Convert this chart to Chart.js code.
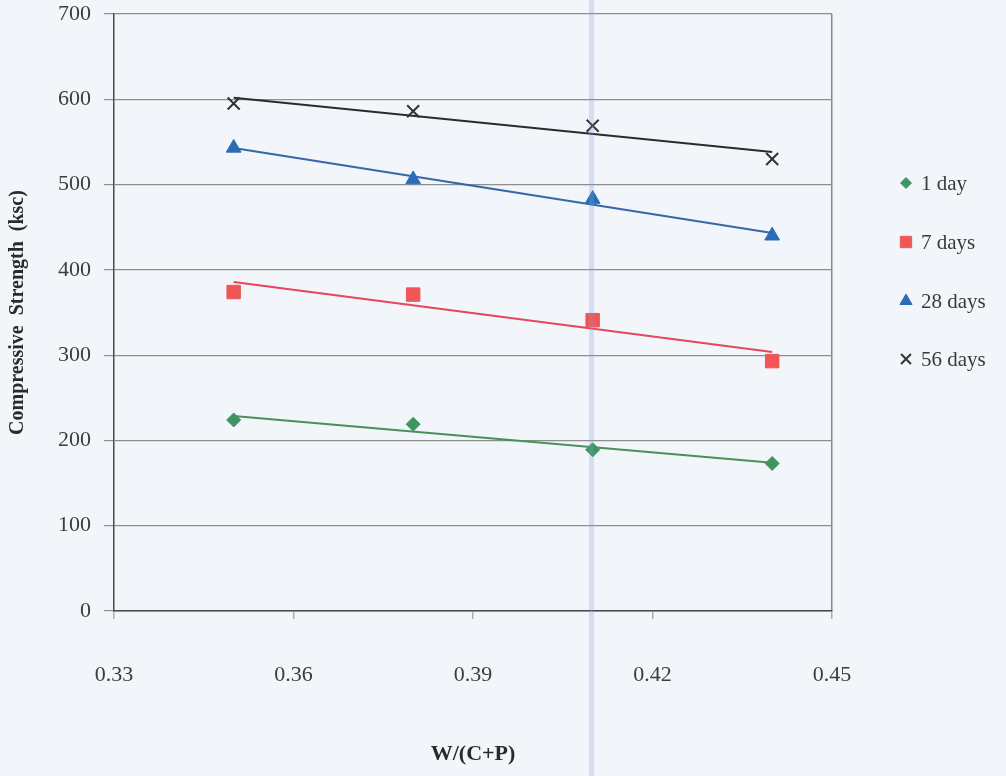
<!DOCTYPE html>
<html>
<head>
<meta charset="utf-8">
<title>Compressive Strength vs W/(C+P)</title>
<script src="https://cdn.jsdelivr.net/npm/chart.js@4.4.1/dist/chart.umd.min.js"></script>
<style>
  html, body { margin: 0; padding: 0; background: #f2f5fa; }
  #wrap { position: relative; width: 1006px; height: 776px; overflow: hidden; }
  #chart { display: block; }
  .band { position: absolute; top: 0; bottom: 0; width: 5px; left: 589px;
          background: rgba(120, 160, 210, 0.25); pointer-events: none; }
</style>
</head>
<body>
<div id="wrap">
  <canvas id="chart" width="1006" height="776"></canvas>
  <div class="band"></div>
</div>
<script>
// Water / (cement + pozzolan) ratio of each mix
const wcpRatio = [0.35, 0.38, 0.41, 0.44];

// Compressive strength (ksc) at each curing age
const strength1Day   = [224, 219, 189, 173];
const strength7Days  = [374, 371, 341, 293];
const strength28Days = [543, 506, 483, 440];
const strength56Days = [595, 586, 569, 530];

const seriesLabels = ['1 day', '7 days', '28 days', '56 days'];

// Axis tick values
const xTickValues = [0.33, 0.36, 0.39, 0.42, 0.45];
const yTickValues = [0, 100, 200, 300, 400, 500, 600, 700];

const seriesValues = [strength1Day, strength7Days, strength28Days, strength56Days];
const seriesStyle = [
  { marker: '#3f9463', line: '#4b8f5c', pointStyle: 'rectRot', radius: 7, legendRadius: 5.5, bw: 1 },
  { marker: '#f05656', line: '#e8455e', pointStyle: 'rect',    radius: 9.5, legendRadius: 8,  bw: 1 },
  { marker: '#2a6cb6', line: '#3567a8', pointStyle: 'triangle', radius: 8.5, legendRadius: 7, bw: 1 },
  { marker: '#333333', line: '#2b2b2b', pointStyle: 'crossRot', radius: 8.5, legendRadius: 7, bw: 2 }
];

// Least-squares linear trend over the measured points
function linearTrend(xs, ys) {
  const n = xs.length;
  const mx = xs.reduce((a, b) => a + b, 0) / n;
  const my = ys.reduce((a, b) => a + b, 0) / n;
  let sxy = 0, sxx = 0;
  for (let i = 0; i < n; i++) {
    sxy += (xs[i] - mx) * (ys[i] - my);
    sxx += (xs[i] - mx) * (xs[i] - mx);
  }
  const slope = sxy / sxx;
  const x0 = Math.min(...xs), x1 = Math.max(...xs);
  return [
    { x: x0, y: my + slope * (x0 - mx) },
    { x: x1, y: my + slope * (x1 - mx) }
  ];
}

const datasets = [];
seriesValues.forEach((vals, i) => {
  const st = seriesStyle[i];
  datasets.push({
    label: seriesLabels[i] + ' trend',
    data: linearTrend(wcpRatio, vals),
    showLine: true,
    borderColor: st.line,
    borderWidth: 2,
    pointRadius: 0,
    order: 2
  });
  datasets.push({
    label: seriesLabels[i],
    data: wcpRatio.map((x, k) => ({ x: x, y: vals[k] })),
    showLine: false,
    pointStyle: st.pointStyle,
    pointRadius: st.radius,
    pointHoverRadius: st.radius,
    pointBackgroundColor: st.marker,
    pointBorderColor: st.marker,
    pointBorderWidth: st.bw,
    order: 1
  });
});

const serif = "'Liberation Serif', 'Times New Roman', serif";

// Legend drawn at the right of the plot, one row per curing age
const sideLegend = {
  id: 'sideLegend',
  afterDraw(chart) {
    const ctx = chart.ctx;
    const rowsY = [183, 242, 301, 359];
    ctx.save();
    seriesLabels.forEach((label, i) => {
      const st = seriesStyle[i];
      ctx.fillStyle = st.marker;
      ctx.strokeStyle = st.marker;
      ctx.lineWidth = st.bw;
      Chart.helpers.drawPoint(ctx, {
        pointStyle: st.pointStyle, rotation: 0,
        radius: st.legendRadius, borderWidth: st.bw
      }, 906, rowsY[i]);
      ctx.fillStyle = '#3a3a3a';
      ctx.font = '21px ' + serif;
      ctx.textAlign = 'left';
      ctx.textBaseline = 'middle';
      ctx.fillText(label, 921, rowsY[i] + 1);
    });
    ctx.restore();
  }
};

new Chart(document.getElementById('chart'), {
  type: 'scatter',
  data: { datasets: datasets },
  plugins: [sideLegend],
  options: {
    responsive: false,
    animation: false,
    devicePixelRatio: 1,
    layout: { padding: { top: 0, right: 174, bottom: 0, left: 0 } },
    plugins: {
      legend: { display: false },
      tooltip: { enabled: false }
    },
    scales: {
      x: {
        type: 'linear',
        min: 0.33,
        max: 0.45,
        afterBuildTicks: s => { s.ticks = xTickValues.map(v => ({ value: v })); },
        afterFit: s => { s.height = 165; },
        ticks: {
          padding: 43,
          color: '#3c3c3c',
          font: { family: serif, size: 22, lineHeight: 1.2 },
          callback: v => Number(v).toFixed(2)
        },
        grid: {
          drawOnChartArea: true,
          color: c => (c.index === xTickValues.length - 1 ? '#8a8a8a' : 'rgba(0,0,0,0)'),
          tickColor: '#b0b0b0',
          tickLength: 8,
          lineWidth: 1.5
        },
        border: { color: '#4a4a4a', width: 1.5 },
        title: {
          display: true,
          text: 'W/(C+P)',
          color: '#2a2a2a',
          font: { family: serif, size: 22, weight: 'bold', lineHeight: 1.2 },
          padding: { top: 0, bottom: 8 }
        }
      },
      y: {
        type: 'linear',
        min: 0,
        max: 700,
        afterBuildTicks: s => { s.ticks = yTickValues.map(v => ({ value: v })); },
        afterFit: s => { s.width = 114; s.paddingTop = 14; s.paddingBottom = 14; },
        ticks: {
          padding: 13,
          color: '#3c3c3c',
          font: { family: serif, size: 22, lineHeight: 1.2 }
        },
        grid: {
          color: '#8e8e8e',
          lineWidth: 1.2,
          tickLength: 10
        },
        border: { color: '#4a4a4a', width: 1.5 },
        title: {
          display: true,
          text: 'Compressive  Strength  (ksc)',
          color: '#2a2a2a',
          font: { family: serif, size: 20, weight: 'bold', lineHeight: 1.2 },
          padding: { top: 6, bottom: 0 }
        }
      }
    }
  }
});
</script>
</body>
</html>
